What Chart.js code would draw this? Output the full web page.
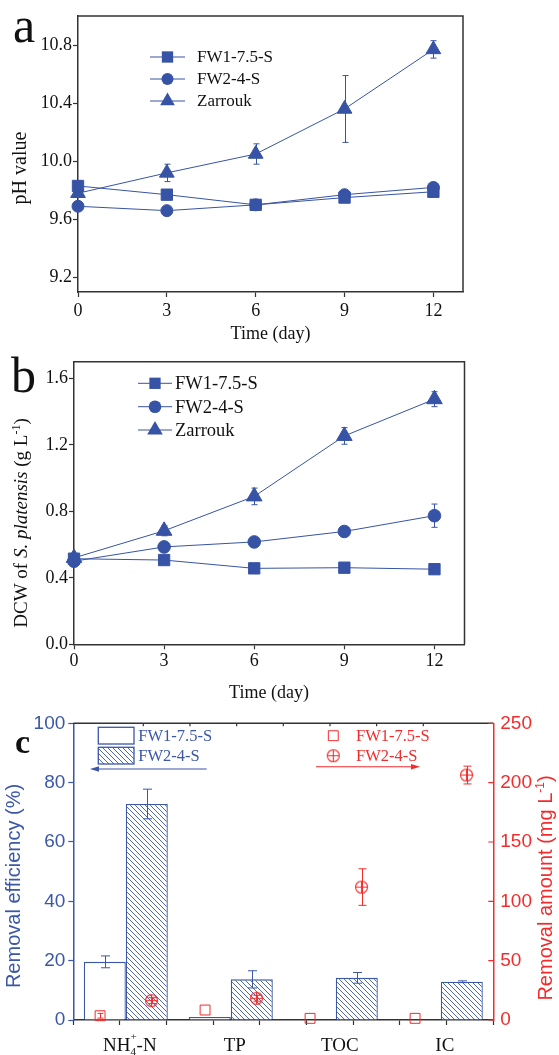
<!DOCTYPE html>
<html>
<head>
<meta charset="utf-8">
<title>pH, biomass and removal</title>
<script src="https://cdn.jsdelivr.net/npm/chart.js@4.4.1/dist/chart.umd.min.js"></script>
<style>
  html, body { margin: 0; padding: 0; background: #fff; }
  body { width: 559px; height: 1055px; position: relative; overflow: hidden; }
  .panel { position: absolute; left: 0; width: 559px; }
</style>
</head>
<body>
<div class="panel" style="top:0;height:350px"><canvas id="chartPH"></canvas></div>
<div class="panel" style="top:350px;height:360px"><canvas id="chartDCW"></canvas></div>
<div class="panel" style="top:700px;height:355px"><canvas id="chartRemoval"></canvas></div>
<div class="panel" style="top:700px;height:355px"><canvas id="chartAmount"></canvas></div>

<script>
// ---- data ----
const days = [0, 3, 6, 9, 12];
const seriesNames = ['FW1-7.5-S', 'FW2-4-S', 'Zarrouk'];

const phTicks = [9.2, 9.6, 10.0, 10.4, 10.8];
const phFW1 = [9.83, 9.77, 9.70, 9.75, 9.79];
const phFW2 = [9.69, 9.66, 9.70, 9.77, 9.82];
const phZarrouk = [9.78, 9.92, 10.05, 10.36, 10.77];
const phZarroukErr = [0, 0.06, 0.07, 0.23, 0.06];

const dcwTicks = [0.0, 0.4, 0.8, 1.2, 1.6];
const dcwFW1 = [0.515, 0.507, 0.457, 0.461, 0.452];
const dcwFW2 = [0.50, 0.586, 0.616, 0.679, 0.774];
const dcwZarrouk = [0.52, 0.683, 0.89, 1.254, 1.475];
const dcwFW2Err = [0, 0, 0, 0, 0.07];
const dcwZarroukErr = [0, 0.03, 0.05, 0.05, 0.045];

const items = ['NH4+-N', 'TP', 'TOC', 'IC'];
const effTicks = [0, 20, 40, 60, 80, 100];
const amtTicks = [0, 50, 100, 150, 200, 250];
const effFW1 = [19.6, 1.0, 0, 0];
const effFW1Err = [2.0, 0, 0, 0];
const effFW2 = [72.8, 13.7, 14.2, 12.9];
const effFW2Err = [5.0, 2.9, 1.8, 0.3];
const amtFW1 = [3.6, 8.4, 1.4, 1.4];
const amtFW1Err = [2.0, 0, 0, 0];
const amtFW2 = [16.3, 18.3, 112.0, 206.4];
const amtFW2Err = [2.5, 2.5, 15.4, 7.5];

// ---- styling ----
const BLUE = '#3753a5';
const C_BLUE = '#3b57a8';
const RED = '#f42b2b';
const AXIS = '#333';
const SERIF = "'Liberation Serif', 'Times New Roman', serif";
const SANS = "'Liberation Sans', Arial, sans-serif";
const amtShift = 0.245;   // red markers sit just outside the bar centres
// plot box of the removal panel (axis widths / heights)
const boxC = { left: 73.3, right: 65.7, top: 23.3, bottom: 35 };

Chart.defaults.animation = false;
Chart.defaults.font.family = SERIF;

function drawMarker(ctx, style, x, y, r) {
  ctx.beginPath();
  if (style === 'rect') {
    const s = r * Math.SQRT1_2;
    ctx.rect(x - s, y - s, 2 * s, 2 * s);
  } else if (style === 'triangle') {
    const a = 2 * Math.PI / 3;
    ctx.moveTo(x, y - r);
    ctx.lineTo(x + r * Math.sin(a), y - r * Math.cos(a));
    ctx.lineTo(x + r * Math.sin(2 * a), y - r * Math.cos(2 * a));
    ctx.closePath();
  } else {
    ctx.arc(x, y, r, 0, Math.PI * 2);
  }
}

// circle with a cross through it, used as a point style
function crossCircle(r, color) {
  const size = Math.ceil(2 * r + 3);
  const c = document.createElement('canvas');
  c.width = c.height = size;
  const g = c.getContext('2d');
  const m = size / 2;
  g.strokeStyle = color;
  g.lineWidth = 1.1;
  g.beginPath();
  g.arc(m, m, r, 0, Math.PI * 2);
  g.moveTo(m - r, m); g.lineTo(m + r, m);
  g.moveTo(m, m - r); g.lineTo(m, m + r);
  g.stroke();
  return c;
}

function hatchPattern(ctx, color) {
  const s = 5;
  const c = document.createElement('canvas');
  c.width = c.height = s;
  const g = c.getContext('2d');
  g.fillStyle = '#fff';
  g.fillRect(0, 0, s, s);
  g.strokeStyle = color;
  g.lineWidth = 0.9;
  g.beginPath();
  g.moveTo(0, 0); g.lineTo(s, s);
  g.moveTo(-1, s - 1); g.lineTo(1, s + 1);
  g.moveTo(s - 1, -1); g.lineTo(s + 1, 1);
  g.stroke();
  return ctx.createPattern(c, 'repeat');
}

// rich text: parts with their own font and vertical shift
function drawRich(ctx, t) {
  ctx.save();
  ctx.translate(t.x, t.y);
  if (t.rotate) ctx.rotate(t.rotate);
  ctx.fillStyle = t.color || '#111';
  ctx.textBaseline = 'alphabetic';
  const widths = t.parts.map(p => { ctx.font = p.font; return ctx.measureText(p.text).width; });
  const total = widths.reduce((a, b) => a + b, 0);
  let x = t.align === 'left' ? 0 : -total / 2;
  t.parts.forEach((p, i) => {
    ctx.font = p.font;
    ctx.fillText(p.text, x, p.dy || 0);
    x += widths[i];
  });
  ctx.restore();
}

const textLayer = (texts) => ({
  id: 'textLayer',
  afterDraw(chart) { texts.forEach(t => drawRich(chart.ctx, t)); }
});

const errorBars = {
  id: 'errorBars',
  afterDatasetsDraw(chart) {
    const ctx = chart.ctx;
    chart.data.datasets.forEach((ds, di) => {
      if (!ds.errs) return;
      const meta = chart.getDatasetMeta(di);
      const yScale = chart.scales[meta.yAxisID];
      const cap = ds.capHalf || 3;
      ctx.save();
      ctx.strokeStyle = ds.errColor || ds.borderColor;
      ctx.lineWidth = 1;
      meta.data.forEach((el, i) => {
        const e = ds.errs[i];
        if (!e) return;
        const raw = ds.data[i];
        const v = typeof raw === 'object' ? raw.y : raw;
        const x = Math.round(el.x) + 0.5;
        const y1 = yScale.getPixelForValue(v + e);
        const y2 = yScale.getPixelForValue(v - e);
        ctx.beginPath();
        ctx.moveTo(x, y1); ctx.lineTo(x, y2);
        ctx.moveTo(x - cap, y1); ctx.lineTo(x + cap, y1);
        ctx.moveTo(x - cap, y2); ctx.lineTo(x + cap, y2);
        ctx.stroke();
      });
      ctx.restore();
    });
  }
};

// top and right edges of the plot box
const plotFrame = (sides) => ({
  id: 'plotFrame',
  afterDraw(chart) {
    const { left, right, top, bottom } = chart.chartArea;
    const ctx = chart.ctx;
    ctx.save();
    ctx.lineWidth = 1.5;
    ctx.strokeStyle = AXIS;
    ctx.beginPath();
    ctx.moveTo(left, top); ctx.lineTo(right, top);
    if (sides === 'topRight') ctx.lineTo(right, bottom);
    ctx.stroke();
    ctx.restore();
  }
});

// line + marker key for the time-course panels
const seriesKey = (k) => ({
  id: 'seriesKey',
  afterDraw(chart) {
    const ctx = chart.ctx;
    ctx.save();
    chart.data.datasets.forEach((ds, i) => {
      const y = k.rows[i];
      ctx.strokeStyle = ds.borderColor;
      ctx.lineWidth = 1;
      ctx.beginPath();
      ctx.moveTo(k.x0, y); ctx.lineTo(k.x1, y);
      ctx.stroke();
      ctx.fillStyle = ds.pointBackgroundColor;
      drawMarker(ctx, ds.pointStyle, (k.x0 + k.x1) / 2, y, ds.pointRadius);
      ctx.fill();
      ctx.fillStyle = '#111';
      ctx.font = k.font;
      ctx.textBaseline = 'middle';
      ctx.fillText(ds.label, k.tx, y + 1);
    });
    ctx.restore();
  }
});

function lineSet(label, values, errs, style, radius) {
  return {
    label,
    data: days.map((d, i) => ({ x: d, y: values[i] })),
    errs,
    borderColor: BLUE, backgroundColor: BLUE, borderWidth: 1,
    pointStyle: style, pointRadius: radius, pointHoverRadius: radius,
    pointBackgroundColor: BLUE, pointBorderColor: BLUE, pointBorderWidth: 1,
    tension: 0, clip: false
  };
}

function timeAxis(height, pad) {
  return {
    type: 'linear', min: 0, max: 13,
    afterBuildTicks: s => { s.ticks = days.map(v => ({ value: v })); },
    afterFit: s => { s.height = height; },
    ticks: { color: '#111', font: { family: SERIF, size: 18 }, padding: pad, maxRotation: 0, autoSkip: false,
             callback: v => String(v) },
    grid: { drawOnChartArea: false, tickLength: 5, color: AXIS, tickWidth: 1.2 },
    border: { color: AXIS, width: 1.5 }
  };
}

function valueAxis(width, min, max, tickList) {
  return {
    type: 'linear', min, max,
    afterBuildTicks: s => { s.ticks = tickList.map(v => ({ value: v })); },
    afterFit: s => { s.width = width; },
    ticks: { color: '#111', font: { family: SERIF, size: 18 }, padding: 1, callback: v => v.toFixed(1) },
    grid: { drawOnChartArea: false, tickLength: 5, color: AXIS, tickWidth: 1.2 },
    border: { color: AXIS, width: 1.5 }
  };
}

// ---- a: pH ----
new Chart(document.getElementById('chartPH'), {
  type: 'line',
  data: {
    datasets: [
      lineSet(seriesNames[0], phFW1, null, 'rect', 8),
      lineSet(seriesNames[1], phFW2, null, 'circle', 6),
      lineSet(seriesNames[2], phZarrouk, phZarroukErr, 'triangle', 8.5)
    ]
  },
  options: {
    responsive: true, maintainAspectRatio: false,
    layout: { padding: { left: 0, top: 16, right: 96, bottom: 0 } },
    plugins: { legend: { display: false }, tooltip: { enabled: false } },
    scales: { x: timeAxis(58, 3), y: valueAxis(78, 9.1, 11.0, phTicks) }
  },
  plugins: [errorBars, plotFrame('topRight'),
    seriesKey({ x0: 150, x1: 185, tx: 197, rows: [57, 79, 101], font: '17px ' + SERIF }),
    textLayer([
      { x: 13, y: 42, align: 'left', parts: [{ text: 'a', font: '50px ' + SERIF }] },
      { x: 26, y: 168, rotate: -Math.PI / 2, parts: [{ text: 'pH value', font: '20px ' + SERIF }] },
      { x: 270.5, y: 339, parts: [{ text: 'Time (day)', font: '18px ' + SERIF }] }
    ])]
});

// ---- b: biomass ----
new Chart(document.getElementById('chartDCW'), {
  type: 'line',
  data: {
    datasets: [
      lineSet(seriesNames[0], dcwFW1, null, 'rect', 8),
      lineSet(seriesNames[1], dcwFW2, dcwFW2Err, 'circle', 6.3),
      lineSet(seriesNames[2], dcwZarrouk, dcwZarroukErr, 'triangle', 9)
    ]
  },
  options: {
    responsive: true, maintainAspectRatio: false,
    layout: { padding: { left: 0, top: 7.3, right: 94.5, bottom: 0 } },
    plugins: { legend: { display: false }, tooltip: { enabled: false } },
    scales: { x: timeAxis(65.7, 1), y: valueAxis(74, 0, 1.7, dcwTicks) }
  },
  plugins: [errorBars, plotFrame('topRight'),
    seriesKey({ x0: 138, x1: 172, tx: 175, rows: [33.3, 56.7, 80], font: '18.5px ' + SERIF }),
    textLayer([
      { x: 11, y: 42, align: 'left', parts: [{ text: 'b', font: '50px ' + SERIF }] },
      { x: 27, y: 173, rotate: -Math.PI / 2, parts: [
        { text: 'DCW of ', font: '19px ' + SERIF },
        { text: 'S. platensis', font: 'italic 19px ' + SERIF },
        { text: ' (g L', font: '19px ' + SERIF },
        { text: '-1', font: '12px ' + SERIF, dy: -7 },
        { text: ')', font: '19px ' + SERIF }
      ] },
      { x: 269, y: 347.7, parts: [{ text: 'Time (day)', font: '18px ' + SERIF }] }
    ])]
});

// ---- c: removal efficiency (bars) + removal amount (red markers, overlaid) ----
const canvasC = document.getElementById('chartRemoval');
const hatch = hatchPattern(canvasC.getContext('2d'), C_BLUE);
const plusRing = crossCircle(6, RED);

function arrow(ctx, x1, x2, y, color) {
  const dir = Math.sign(x2 - x1);
  ctx.strokeStyle = color;
  ctx.fillStyle = color;
  ctx.lineWidth = 1.1;
  ctx.beginPath();
  ctx.moveTo(x1, y); ctx.lineTo(x2 - dir * 6, y);
  ctx.stroke();
  ctx.beginPath();
  ctx.moveTo(x2, y); ctx.lineTo(x2 - dir * 9, y - 2.8); ctx.lineTo(x2 - dir * 9, y + 2.8);
  ctx.closePath();
  ctx.fill();
}

// bar key, inward ticks and category names
const removalDecor = {
  id: 'removalDecor',
  afterDraw(chart) {
    const ctx = chart.ctx;
    const ds = chart.data.datasets;
    const { right, top } = chart.chartArea;
    ctx.save();

    ctx.lineWidth = 1.2;
    ctx.strokeStyle = AXIS;
    const xs = chart.scales.xs;
    ctx.beginPath();
    for (let v = 0; v <= 3; v += 0.5) {
      const x = xs.getPixelForValue(v);
      ctx.moveTo(x, top); ctx.lineTo(x, top + 3);
    }
    ctx.stroke();
    const y1 = chart.scales.y1;
    ctx.strokeStyle = RED;
    ctx.beginPath();
    amtTicks.forEach(v => {
      const y = y1.getPixelForValue(v);
      ctx.moveTo(right - 5, y); ctx.lineTo(right, y);
    });
    ctx.stroke();

    ctx.font = '16.5px ' + SERIF;
    ctx.textBaseline = 'middle';
    ds.forEach((d, i) => {
      const rowY = 35.7 + i * 20;
      ctx.fillStyle = d.backgroundColor;
      ctx.fillRect(98.3, rowY - 8.4, 35.7, 16.7);
      ctx.strokeStyle = C_BLUE;
      ctx.lineWidth = 1.3;
      ctx.strokeRect(98.3, rowY - 8.4, 35.7, 16.7);
      ctx.fillStyle = C_BLUE;
      ctx.fillText(d.label, 138.3, rowY + 1);
    });
    arrow(ctx, 206.7, 90, 69, C_BLUE);

    const xc = chart.scales.x;
    const yb = 344;
    ctx.fillStyle = '#111';
    items.forEach((name, i) => {
      const cx = xc.getPixelForValue(i) + 4;
      ctx.textBaseline = 'alphabetic';
      if (name === 'NH4+-N') {
        const big = '19px ' + SERIF, small = '11px ' + SERIF;
        ctx.font = big; const wNH = ctx.measureText('NH').width; const wN = ctx.measureText('-N').width;
        ctx.font = small; const wS = Math.max(ctx.measureText('+').width, ctx.measureText('4').width);
        let x = cx - (wNH + wS + wN) / 2;
        ctx.font = big; ctx.fillText('NH', x, yb + 6.5); x += wNH;
        ctx.font = small; ctx.fillText('+', x, yb - 4); ctx.fillText('4', x, yb + 11);
        x += wS;
        ctx.font = big; ctx.fillText('-N', x, yb + 6.5);
      } else {
        ctx.font = '19px ' + SERIF;
        ctx.textAlign = 'center';
        ctx.fillText(name, cx, yb + 6.5);
        ctx.textAlign = 'left';
      }
    });
    ctx.restore();
  }
};

new Chart(canvasC, {
  type: 'bar',
  data: {
    labels: items,
    datasets: [
      { label: 'FW1-7.5-S', data: effFW1, errs: effFW1Err, capHalf: 4.5,
        backgroundColor: '#fff', borderColor: C_BLUE, borderWidth: 1.3,
        categoryPercentage: 0.8, barPercentage: 1 },
      { label: 'FW2-4-S', data: effFW2, errs: effFW2Err, capHalf: 4.5,
        backgroundColor: hatch, borderColor: C_BLUE, borderWidth: 1.3,
        categoryPercentage: 0.8, barPercentage: 1 }
    ]
  },
  options: {
    responsive: true, maintainAspectRatio: false,
    layout: { padding: { left: 0, top: boxC.top, right: 0, bottom: 0 } },
    plugins: { legend: { display: false }, tooltip: { enabled: false } },
    scales: {
      x: { type: 'category', display: false, offset: true },
      xs: {
        type: 'linear', position: 'bottom', min: -0.5, max: 3.5,
        afterBuildTicks: s => { s.ticks = [-0.5, 0, 0.5, 1, 1.5, 2, 2.5, 3, 3.5].map(v => ({ value: v })); },
        afterFit: s => { s.height = boxC.bottom; },
        ticks: { callback: () => '', autoSkip: false },
        grid: { drawOnChartArea: false, tickLength: 5, color: AXIS, tickWidth: 1.2 },
        border: { color: AXIS, width: 1.5 }
      },
      y: {
        type: 'linear', position: 'left', min: 0, max: 100,
        afterBuildTicks: s => { s.ticks = effTicks.map(v => ({ value: v })); },
        afterFit: s => { s.width = boxC.left; },
        ticks: { color: C_BLUE, font: { family: SANS, size: 19 }, padding: 3 },
        grid: { drawOnChartArea: false, tickLength: 5, color: C_BLUE, tickWidth: 1.2 },
        border: { color: C_BLUE, width: 1.5 }
      },
      y1: {
        type: 'linear', position: 'right', min: 0, max: 250,
        afterBuildTicks: s => { s.ticks = amtTicks.map(v => ({ value: v })); },
        afterFit: s => { s.width = boxC.right; },
        ticks: { color: RED, font: { family: SANS, size: 19 }, padding: 7 },
        grid: { drawOnChartArea: false, drawTicks: false },
        border: { color: RED, width: 1.5 }
      }
    }
  },
  plugins: [errorBars, plotFrame('top'), removalDecor,
    textLayer([
      { x: 15, y: 53, align: 'left', parts: [{ text: 'c', font: 'bold 34px ' + SERIF }] },
      { x: 20, y: 186, rotate: -Math.PI / 2, color: C_BLUE,
        parts: [{ text: 'Removal efficiency (%)', font: '20px ' + SANS }] },
      { x: 552, y: 188, rotate: -Math.PI / 2, color: RED, parts: [
        { text: 'Removal amount (mg L', font: '20px ' + SANS },
        { text: '-1', font: '12px ' + SANS, dy: -8 },
        { text: ')', font: '20px ' + SANS }
      ] }
    ])]
});

// red marker key
const amountKey = {
  id: 'amountKey',
  afterDraw(chart) {
    const ctx = chart.ctx;
    ctx.save();
    ctx.font = '16.5px ' + SERIF;
    ctx.textBaseline = 'middle';
    chart.data.datasets.forEach((d, k) => {
      const rowY = 35.7 + k * 20;
      if (d.pointStyle === 'rect') {
        ctx.strokeStyle = RED;
        ctx.lineWidth = 1;
        drawMarker(ctx, 'rect', 333.3, rowY, d.pointRadius);
        ctx.stroke();
      } else {
        const img = d.pointStyle;
        ctx.drawImage(img, 333.3 - img.width / 2, rowY - img.height / 2);
      }
      ctx.fillStyle = RED;
      ctx.fillText(d.label, 356, rowY + 1);
    });
    arrow(ctx, 316, 420, 66.7, RED);
    ctx.restore();
  }
};

new Chart(document.getElementById('chartAmount'), {
  type: 'scatter',
  data: {
    datasets: [
      { label: 'FW1-7.5-S', errs: amtFW1Err, capHalf: 3,
        data: items.map((_, i) => ({ x: i - amtShift, y: amtFW1[i] })),
        pointStyle: 'rect', pointRadius: 7, pointHoverRadius: 7,
        backgroundColor: 'rgba(0,0,0,0)', borderColor: RED, pointBorderWidth: 1, clip: false },
      { label: 'FW2-4-S', errs: amtFW2Err, capHalf: 4,
        data: items.map((_, i) => ({ x: i + amtShift, y: amtFW2[i] })),
        pointStyle: plusRing, pointRadius: 6, pointHoverRadius: 6,
        backgroundColor: 'rgba(0,0,0,0)', borderColor: RED, clip: false }
    ]
  },
  options: {
    responsive: true, maintainAspectRatio: false,
    layout: { padding: boxC },
    plugins: { legend: { display: false }, tooltip: { enabled: false } },
    scales: {
      x: { type: 'linear', display: false, min: -0.5, max: 3.5 },
      y: { type: 'linear', display: false, min: 0, max: 250 }
    }
  },
  plugins: [errorBars, amountKey]
});
</script>
</body>
</html>
